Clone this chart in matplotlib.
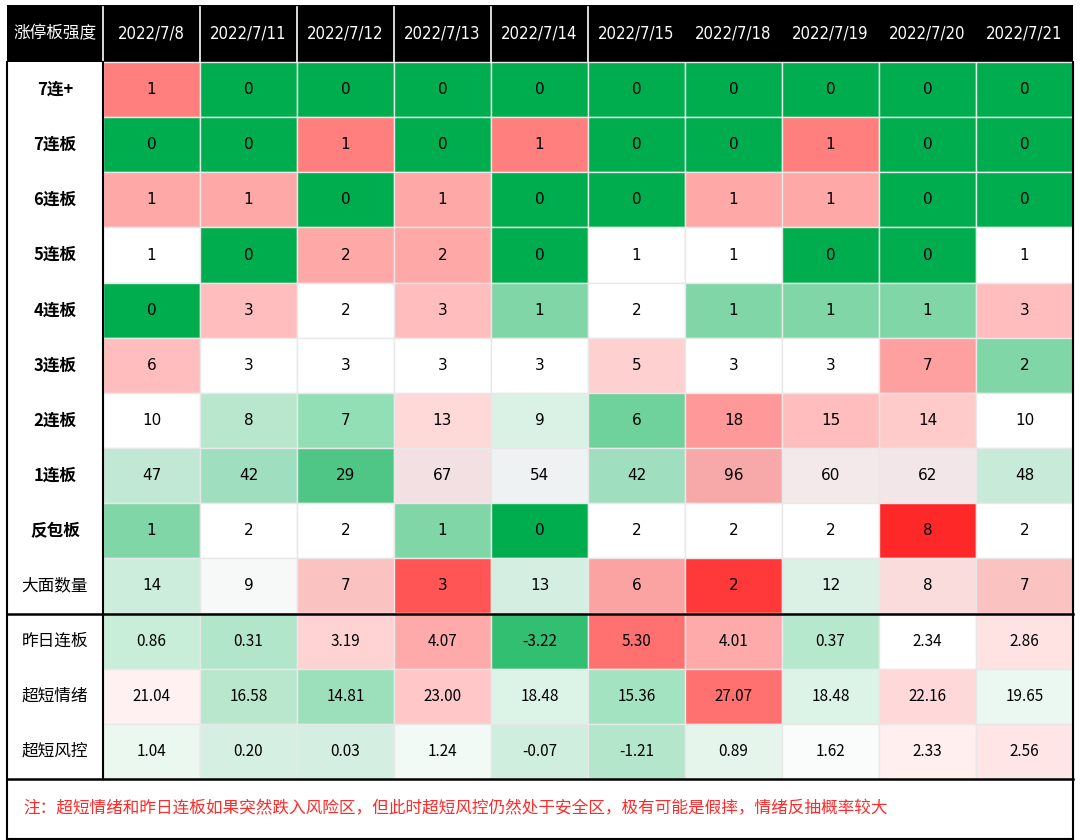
import matplotlib
matplotlib.use("Agg")
import matplotlib.pyplot as plt
from matplotlib.patches import Rectangle

plt.rcParams['font.family'] = ['Noto Sans CJK SC', 'DejaVu Sans']

dates = ["2022/7/8", "2022/7/11", "2022/7/12", "2022/7/13", "2022/7/14",
         "2022/7/15", "2022/7/18", "2022/7/19", "2022/7/20", "2022/7/21"]
corner_label = "涨停板强度"
row_labels = ["7连+", "7连板", "6连板", "5连板", "4连板", "3连板", "2连板",
              "1连板", "反包板", "大面数量", "昨日连板", "超短情绪", "超短风控"]

count_rows = [
    [1, 0, 0, 0, 0, 0, 0, 0, 0, 0],
    [0, 0, 1, 0, 1, 0, 0, 1, 0, 0],
    [1, 1, 0, 1, 0, 0, 1, 1, 0, 0],
    [1, 0, 2, 2, 0, 1, 1, 0, 0, 1],
    [0, 3, 2, 3, 1, 2, 1, 1, 1, 3],
    [6, 3, 3, 3, 3, 5, 3, 3, 7, 2],
    [10, 8, 7, 13, 9, 6, 18, 15, 14, 10],
    [47, 42, 29, 67, 54, 42, 96, 60, 62, 48],
    [1, 2, 2, 1, 0, 2, 2, 2, 8, 2],
    [14, 9, 7, 3, 13, 6, 2, 12, 8, 7],
]
zuori_lianban = [0.86, 0.31, 3.19, 4.07, -3.22, 5.30, 4.01, 0.37, 2.34, 2.86]
chaoduan_qingxu = [21.04, 16.58, 14.81, 23.00, 18.48, 15.36, 27.07, 18.48, 22.16, 19.65]
chaoduan_fengkong = [1.04, 0.20, 0.03, 1.24, -0.07, -1.21, 0.89, 1.62, 2.33, 2.56]

footnote = "注：超短情绪和昨日连板如果突然跌入风险区，但此时超短风控仍然处于安全区，极有可能是假摔，情绪反抽概率较大"

# cell fill colours
G = "#00AD4E"; W = "#FFFFFF"; R1 = "#FF7F7F"; P1 = "#FFA8A8"; P2 = "#FFBDBD"; LG = "#80D6A7"
cell_colors = [
    [R1, G, G, G, G, G, G, G, G, G],
    [G, G, R1, G, R1, G, G, R1, G, G],
    [P1, P1, G, P1, G, G, P1, P1, G, G],
    [W, G, P1, P1, G, W, W, G, G, W],
    [G, P2, W, P2, LG, W, LG, LG, LG, P2],
    [P2, W, W, W, W, "#FFD0D0", W, W, "#FFA0A0", LG],
    [W, "#B8E7CE", "#93DFB5", "#FFD8D8", "#DAF1E5", "#6FD19C", "#FF9898", "#FFBDBD", "#FFCACA", W],
    ["#C1E8D5", "#A0DEC0", "#50C686", "#F3E0E2", "#EFF2F3", "#A0DEC0", "#F7A9A9", "#F3E8EA", "#F3E6E8", "#C8EAD8"],
    [LG, W, W, LG, G, W, W, W, "#FF2828", W],
    ["#CCEDDB", "#F7F8F8", "#FBC2C2", "#FF5555", "#D4EFE1", "#FBA3A3", "#FF3939", "#DBF1E5", "#FADCDC", "#FBC2C2"],
    ["#C8EDD9", "#B2E6CA", "#FFD3D3", "#FFAAAA", "#33BF72", "#FF7070", "#FFAAAA", "#B5E8CC", W, "#FFE3E3"],
    ["#FFF1F1", "#B8E7CE", "#9BE0BB", "#FFC7C7", "#DCF3E7", "#A4E3C2", "#FF7070", "#DCF3E7", "#FFD9D9", "#EBF8F1"],
    ["#EBF8F0", "#D5F0E2", "#D4EFE1", "#F1FAF5", "#D0EEDD", "#B3E6CA", "#E6F5EC", "#F9FCFA", "#FFEFEF", "#FFE5E5"],
]

# ---- build cell texts
cell_text = [[str(v) for v in r] for r in count_rows]
cell_text += [[f"{v:.2f}" for v in r] for r in (zuori_lianban, chaoduan_qingxu, chaoduan_fengkong)]

# ---- layout (pixel units of a 1080x840 canvas)
W_PX, H_PX = 1080, 840
left, right = 7, 1073
top = 5
header_h = 57
label_w = 96
ncol = len(dates)
col_w = (right - left - label_w) / ncol
nrow = len(row_labels)
row_h = 55.15
foot_h = 60

fig = plt.figure(figsize=(W_PX / 100, H_PX / 100), dpi=100)
ax = fig.add_axes([0, 0, 1, 1])
ax.set_xlim(0, W_PX)
ax.set_ylim(H_PX, 0)
ax.axis("off")

def col_x(j):
    return left + label_w + j * col_w

def row_y(i):
    return top + header_h + i * row_h

# header
ax.add_patch(Rectangle((left, top), right - left, header_h, facecolor="black", edgecolor="none"))
ax.text(left + label_w / 2, top + header_h / 2, corner_label, color="white",
        ha="center", va="center", fontsize=12)
for j, d in enumerate(dates):
    ax.text(col_x(j) + col_w / 2, top + header_h / 2, d, color="white",
            ha="center", va="center", fontsize=12, family=["DejaVu Sans"], stretch="condensed")
# white separators in header for first columns
for j in range(0, 6):
    x = col_x(j)
    ax.plot([x, x], [top + 2, top + header_h], color="white", lw=1.2)

# body cells
for i in range(nrow):
    y = row_y(i)
    ax.add_patch(Rectangle((left, y), label_w, row_h, facecolor="white", edgecolor="none"))
    ax.text(left + label_w / 2, y + row_h / 2, row_labels[i], ha="center", va="center",
            fontsize=12, fontweight="bold" if i < 9 else "normal", color="black")
    for j in range(ncol):
        ax.add_patch(Rectangle((col_x(j), y), col_w, row_h, facecolor=cell_colors[i][j],
                               edgecolor="#E8E8E8", linewidth=1.0))
        fam = ["DejaVu Sans"] if i < 10 else ["Noto Sans CJK SC", "DejaVu Sans"]
        ax.text(col_x(j) + col_w / 2, y + row_h / 2, cell_text[i][j], ha="center",
                va="center", fontsize=11, color="black", family=fam)

# footnote row
fy = row_y(nrow)
ax.text(left + 16, fy + foot_h / 2, footnote, color="#FF2A2A", ha="left", va="center", fontsize=12)

# thick black lines
bottom = fy + foot_h
ax.plot([left, left], [top + header_h, bottom], color="black", lw=1.5)
ax.plot([right, right], [top + header_h, bottom], color="black", lw=1.5)
ax.plot([left, right], [bottom, bottom], color="black", lw=1.5)
ax.plot([left + label_w, left + label_w], [top + header_h, row_y(nrow)], color="black", lw=1.5)
ax.plot([left, right], [row_y(10), row_y(10)], color="black", lw=1.8)
ax.plot([left, right], [row_y(nrow), row_y(nrow)], color="black", lw=1.8)

fig.savefig("out.png", dpi=100, facecolor="white")
